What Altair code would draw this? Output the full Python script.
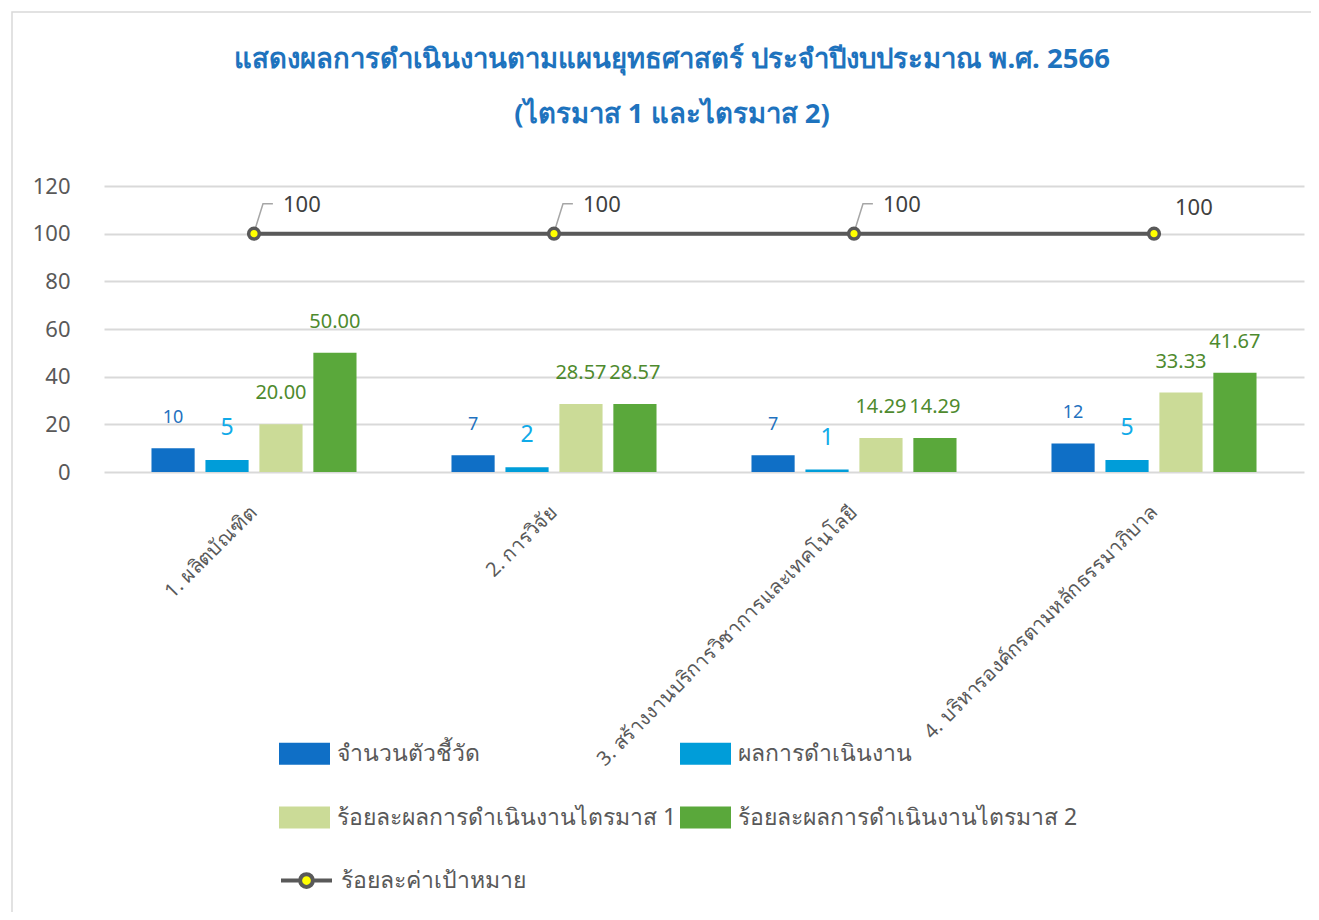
import altair as alt
import pandas as pd

categories = [
    "1.  ผลิตบัณฑิต",
    "2.  การวิจัย",
    "3.  สร้างงานบริการวิชาการและเทคโนโลยี",
    "4.  บริหารองค์กรตามหลักธรรมาภิบาล",
]
series_names = [
    "จำนวนตัวชี้วัด",
    "ผลการดำเนินงาน",
    "ร้อยละผลการดำเนินงานไตรมาส 1",
    "ร้อยละผลการดำเนินงานไตรมาส 2",
]
target_name = "ร้อยละค่าเป้าหมาย"

indicators = [10, 7, 7, 12]
results = [5, 2, 1, 5]
q1_pct = [20.00, 28.57, 14.29, 33.33]
q2_pct = [50.00, 28.57, 14.29, 41.67]
target = [100, 100, 100, 100]

bar_colors = ["#0F6FC6", "#009DD9", "#CBDB97", "#5AA83B"]
label_colors = ["#1F72C0", "#10AAE8", "#4E8A2E", "#4E8A2E"]
label_sizes = [18, 23, 20, 20]
title_lines = [
    "แสดงผลการดำเนินงานตามแผนยุทธศาสตร์ ประจำปีงบประมาณ พ.ศ. 2566",
    "(ไตรมาส 1 และไตรมาส 2)",
]

FONT = "Noto Sans"

rows = []
for s_i, (name, vals) in enumerate(zip(series_names, [indicators, results, q1_pct, q2_pct])):
    for c, v in zip(categories, vals):
        lab = f"{v:.0f}" if s_i < 2 else f"{v:.2f}"
        rows.append({"category": c, "series": name, "value": v, "label": lab, "sidx": s_i})
bars_df = pd.DataFrame(rows)

line_df = pd.DataFrame({
    "category": categories,
    "value": target,
    "name": [target_name] * 4,
    "label": [str(v) for v in target],
    "moved": [1, 1, 1, 0],
})

x_enc = alt.X(
    "category:N", sort=categories,
    scale=alt.Scale(paddingInner=0, paddingOuter=0),
    axis=alt.Axis(
        title=None, labelAngle=-45, labelAlign="right", labelBaseline="middle",
        labelFont=FONT, labelFontSize=20, labelColor="#595959", labelPadding=37,
        ticks=False, domain=False, grid=False, labelLimit=500,
    ),
)
y_enc = alt.Y(
    "value:Q",
    scale=alt.Scale(domain=[0, 120], nice=False),
    axis=alt.Axis(
        title=None, values=[0, 20, 40, 60, 80, 100, 120], labelFont=FONT,
        labelFontSize=22, labelColor="#595959", labelPadding=34, ticks=False,
        domain=False, gridColor="#D9D9D9", gridWidth=2,
    ),
)
xoff = alt.XOffset(
    "series:N", sort=series_names,
    scale=alt.Scale(domain=series_names, paddingInner=0.2, paddingOuter=0.88),
)

rect_path = "M-1,-0.43H1V0.43H-1Z"
line_sym = "M-1,0H-0.25M0.25,0H1M-0.25,0A0.25,0.25,0,1,1,0.25,0A0.25,0.25,0,1,1,-0.25,0Z"

bars = alt.Chart(bars_df).mark_bar().encode(
    x=x_enc, y=y_enc, xOffset=xoff,
    color=alt.Color(
        "series:N", sort=series_names,
        scale=alt.Scale(domain=series_names, range=bar_colors),
        legend=alt.Legend(
            title=None, orient="none", legendX=175, legendY=542, columns=2,
            direction="horizontal",
            symbolType=rect_path, symbolSize=2601, symbolStrokeWidth=0,
            labelFont=FONT, labelFontSize=23, labelColor="#595959",
            labelOffset=7, rowPadding=26, columnPadding=3, padding=0,
            labelLimit=600,
        ),
    ),
)

label_layers = []
for i, name in enumerate(series_names):
    label_layers.append(
        alt.Chart(bars_df).transform_filter(alt.datum.series == name).mark_text(
            font=FONT, fontSize=label_sizes[i], color=label_colors[i],
            baseline="alphabetic", dy=-25,
        ).encode(x=x_enc, y=y_enc, xOffset=xoff, text="label:N")
    )

line = alt.Chart(line_df).mark_line(color="#595959", strokeWidth=4).encode(
    x=x_enc, y=y_enc
)
points = alt.Chart(line_df).mark_point(
    filled=True, stroke="#595959", strokeWidth=3.5, size=115, opacity=1,
).encode(
    x=x_enc, y=y_enc,
    fill=alt.Fill(
        "name:N", scale=alt.Scale(domain=[target_name], range=["#FFFF00"]),
        legend=alt.Legend(
            title=None, orient="none", legendX=175, legendY=667,
            symbolType=line_sym, symbolSize=2601, symbolStrokeWidth=4,
            symbolStrokeColor="#595959",
            labelFont=FONT, labelFontSize=23, labelColor="#595959",
            labelOffset=7, padding=0, labelLimit=600,
        ),
    ),
)
leaders = alt.Chart(line_df).transform_filter(alt.datum.moved == 1).mark_point(
    shape="M0.03,-0.13L0.3,-1L0.63,-1", filled=False, stroke="#A6A6A6",
    strokeWidth=1.5, size=3600, opacity=1,
).encode(x=x_enc, y=y_enc)
tlabels_moved = alt.Chart(line_df).transform_filter(alt.datum.moved == 1).mark_text(
    font=FONT, fontSize=22, color="#404040", align="left", baseline="alphabetic",
    dx=29, dy=-22,
).encode(x=x_enc, y=y_enc, text="label:N")
tlabels_plain = alt.Chart(line_df).transform_filter(alt.datum.moved == 0).mark_text(
    font=FONT, fontSize=22, color="#404040", align="left", baseline="alphabetic",
    dx=21, dy=-19,
).encode(x=x_enc, y=y_enc, text="label:N")

one = pd.DataFrame({"k": [0]})
border = alt.Chart(one).mark_rect(
    fillOpacity=0, stroke="#D9D9D9", strokeWidth=1.5
).encode(
    x=alt.value(-92), x2=alt.value(1230), y=alt.value(-174), y2=alt.value(760)
)
title1 = alt.Chart(one).mark_text(
    text=title_lines[0], font=FONT, fontSize=27.5, fontWeight="bold",
    color="#1E73BE", align="center", baseline="middle",
).encode(x=alt.value(568), y=alt.value(-126))
title2 = alt.Chart(one).mark_text(
    text=title_lines[1], font=FONT, fontSize=27.5, fontWeight="bold",
    color="#1E73BE", align="center", baseline="middle",
).encode(x=alt.value(568), y=alt.value(-71))

chart = alt.layer(
    border, title1, title2, bars, *label_layers, line, leaders, points,
    tlabels_moved, tlabels_plain
).properties(
    width=1200, height=286,
    padding={"left": 96, "top": 178, "right": 7, "bottom": 440},
    autosize=alt.AutoSizeParams(type="none"),
    background="white",
).resolve_scale(color="independent", fill="independent").configure_view(
    stroke="transparent", strokeWidth=0
)

chart.save("out.html", embed_options={"renderer": "svg", "actions": False})
